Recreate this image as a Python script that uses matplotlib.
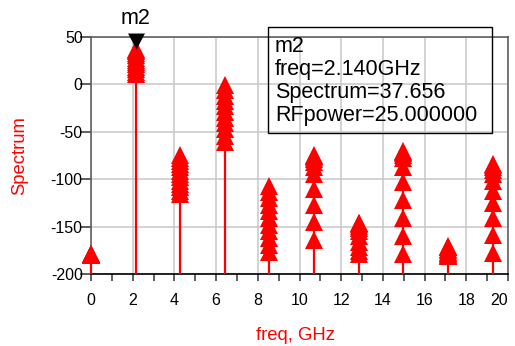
import numpy as np
import matplotlib
matplotlib.use("Agg")
import matplotlib.pyplot as plt
from matplotlib.patches import Rectangle

plt.rcParams['font.family'] = ['Liberation Sans', 'DejaVu Sans']
plt.rcParams['axes.unicode_minus'] = False

# harmonic frequencies (GHz)
freqs = [0.0, 2.14, 4.28, 6.42, 8.56, 10.7, 12.84, 14.98, 17.12, 19.26]

# spectrum (dBm) at each harmonic, one value per RFpower sweep step
spec_dc = [-180.0, -179.5, -179.0, -178.8, -178.6, -178.6]
spec_h1 = [11.0, 13.5, 16.0, 18.5, 21.0, 23.5, 26.0, 28.3, 30.6, 32.8, 34.9, 36.5, 37.656]
spec_h2 = [-115.4, -112.0, -108.5, -105.0, -101.5, -98.0, -94.5, -91.0, -87.5, -84.0, -80.5, -77.2, -74.3]
spec_h3 = [-60.6, -54.0, -47.5, -41.0, -35.0, -29.0, -23.0, -17.5, -12.0, -6.0, -0.6]
spec_h4 = [-176.6, -169.0, -162.0, -155.0, -148.0, -141.0, -134.0, -127.0, -120.0, -113.0, -107.0]
spec_h5 = [-163.9, -145.0, -127.0, -110.0, -95.0, -87.0, -82.0, -79.0, -77.0, -75.5, -74.3]
spec_h6 = [-178.7, -176.0, -172.0, -166.0, -160.0, -155.0, -151.0, -149.0, -147.5, -146.5, -146.0]
spec_h7 = [-178.7, -160.0, -141.0, -122.0, -103.0, -87.0, -78.0, -74.0, -72.0, -70.8, -70.0]
spec_h8 = [-180.8, -180.5, -180.0, -179.0, -178.0, -176.5, -175.0, -173.5, -172.0, -171.0, -170.0]
spec_h9 = [-177.6, -159.0, -141.0, -125.0, -112.0, -102.0, -95.0, -90.0, -87.0, -85.0, -83.8]
spectra = [spec_dc, spec_h1, spec_h2, spec_h3, spec_h4, spec_h5, spec_h6, spec_h7, spec_h8, spec_h9]

# marker m2
m2_freq = 2.14
m2_value = 37.656
m2_lines = ["m2", "freq=2.140GHz", "Spectrum=37.656", "RFpower=25.000000"]

W, H = 515, 346
fig = plt.figure(figsize=(W / 100, H / 100), dpi=100)
ax = fig.add_axes([91 / W, 1 - 274 / H, 417 / W, 237 / H])

red = '#ff0000'
for f, vals in zip(freqs, spectra):
    ax.vlines(f, -200, max(vals), color=red, lw=1.6, zorder=3, clip_on=False)
    ax.plot([f] * len(vals), vals, linestyle='none', marker='^', ms=13.5,
            mfc=red, mec=red, mew=0, zorder=4, clip_on=False)

# black marker triangle with its tip on the data point
tri = [(-0.53, 1.0), (0.53, 1.0), (0.0, 0.0), (-0.53, 1.0)]
ax.plot([m2_freq], [m2_value], linestyle='none', marker=tri, ms=23,
        mfc='black', mec='black', mew=0, zorder=6, clip_on=False)
ax.annotate("m2", (m2_freq, m2_value), xytext=(0, 20), textcoords='offset pixels',
            ha='center', va='bottom', fontsize=15.5, annotation_clip=False)

ax.set_xlim(0, 20)
ax.set_ylim(-200, 50)
ax.set_xticks(np.arange(0, 21, 2))
ax.set_xticks(np.arange(1, 20, 2), minor=True)
ax.set_yticks(np.arange(-200, 51, 50))
ax.grid(True, color='#c8c8c8', lw=1.1, zorder=0)
ax.tick_params(axis='x', which='both', direction='out', length=5, width=1.1,
               pad=9, labelsize=11.5, color='#333333')
ax.tick_params(axis='y', direction='out', length=8, width=1.1, pad=-2,
               labelsize=11.5, color='#333333')
# keep the last x label inside the figure edge
ax.get_xticklabels()[-1].set_horizontalalignment('right')
ax.get_xticklabels()[-1].set_x(20)
for side in ['left', 'top', 'right']:
    ax.spines[side].set_color('#555555')
    ax.spines[side].set_linewidth(1.1)
ax.spines['bottom'].set_color('black')
ax.spines['bottom'].set_linewidth(1.2)

fig.text(20 / W, 1 - 156 / H, "Spectrum", rotation=90, ha='center', va='center',
         color=red, fontsize=13.3)
fig.text(296 / W, 1 - 336 / H, "freq, GHz", ha='center', va='center',
         color=red, fontsize=13.3)

# marker readout box
fig.patches.append(Rectangle((268 / W, 1 - 133 / H), 224 / W, 106 / H,
                             transform=fig.transFigure, fill=False,
                             ec='black', lw=1.0, zorder=10))
for i, line in enumerate(m2_lines):
    fig.text(275 / W, 1 - (52 + 23 * i) / H, line, ha='left', va='baseline',
             fontsize=15.5, zorder=11)

fig.savefig("out.png", dpi=100)
